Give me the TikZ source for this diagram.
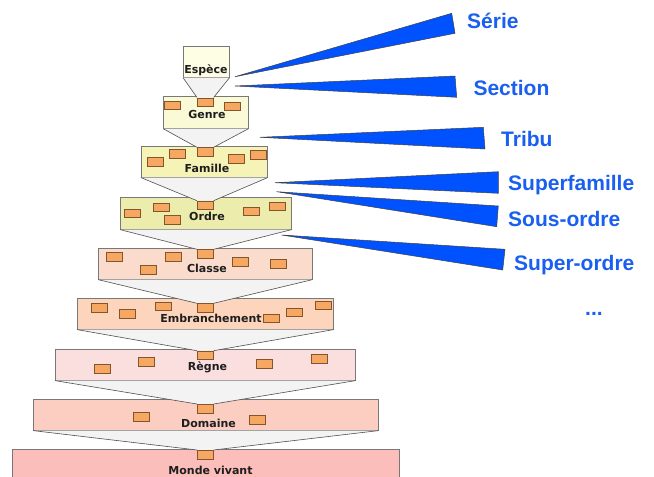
\documentclass[tikz,border=0pt]{standalone}
\usepackage{fontspec}
\newfontfamily\boxfont{DejaVu Sans}
\newfontfamily\labfont{Liberation Sans}
\definecolor{cEspece}{RGB}{254,254,228}
\definecolor{cGenre}{RGB}{251,250,215}
\definecolor{cFamille}{RGB}{246,243,182}
\definecolor{cOrdre}{RGB}{236,236,172}
\definecolor{cClasse}{RGB}{251,220,204}
\definecolor{cEmbr}{RGB}{252,213,188}
\definecolor{cRegne}{RGB}{251,222,222}
\definecolor{cDomaine}{RGB}{252,206,194}
\definecolor{cMonde}{RGB}{251,190,186}
\definecolor{boxline}{RGB}{120,120,120}
\definecolor{funnelgray}{RGB}{243,243,243}
\definecolor{funnelline}{RGB}{80,80,80}
\definecolor{orangefill}{RGB}{246,168,98}
\definecolor{orangeline}{RGB}{130,85,45}
\definecolor{tribfill}{RGB}{0,82,255}
\definecolor{labblue}{RGB}{25,95,240}
\definecolor{txtdark}{RGB}{30,30,30}
\tikzset{
  taxbox/.style={draw=boxline, line width=0.6pt, inner sep=0pt, anchor=north west},
  orect/.style={draw=orangeline, fill=orangefill, line width=0.6pt, inner sep=0pt,
    minimum width=16pt, minimum height=8.5pt, anchor=north west},
  funnelfill/.style={fill=funnelgray},
  funneledge/.style={draw=funnelline, line width=0.6pt},
  bluetri/.style={fill=tribfill, draw=black!75, line width=0.5pt, line join=round},
  boxlabel/.style={font=\boxfont\bfseries\fontsize{11}{13}\selectfont, text=txtdark, anchor=base, inner sep=0pt},
  bluelab/.style={font=\labfont\bfseries\fontsize{21}{24}\selectfont, text=labblue, anchor=base west, inner sep=0pt}
}
\begin{document}
\begin{tikzpicture}[x=1pt,y=-1pt]
\useasboundingbox[fill=white] (0,0) rectangle (654,477);

% boxes (positions only, fills drawn below after funnels)
\path
  coordinate (pe) at (183,46)
  coordinate (pg) at (163,96)
  coordinate (pf) at (141,146)
  coordinate (po) at (120,197)
  coordinate (pc) at (98,248)
  coordinate (pb) at (77,298)
  coordinate (pr) at (55,349)
  coordinate (pd) at (33,399)
  coordinate (pm) at (12,449);

% tabs
\path
  coordinate (tgp) at (197,97.5)
  coordinate (tfp) at (197,147.3)
  coordinate (top) at (197,200.7)
  coordinate (tcp) at (197,249.3)
  coordinate (tbp) at (197,303.3)
  coordinate (trp) at (197,350.7)
  coordinate (tdp) at (197,404)
  coordinate (tmp) at (197,450);

% draw boxes
\node[taxbox, fill=cEspece, minimum width=46pt, minimum height=31pt] (espece) at (pe) {};
\node[taxbox, fill=cGenre, minimum width=85pt, minimum height=32pt] (genre) at (pg) {};
\node[taxbox, fill=cFamille, minimum width=126pt, minimum height=31pt] (famille) at (pf) {};
\node[taxbox, fill=cOrdre, minimum width=171pt, minimum height=32pt] (ordre) at (po) {};
\node[taxbox, fill=cClasse, minimum width=214pt, minimum height=31pt] (classe) at (pc) {};
\node[taxbox, fill=cEmbr, minimum width=256pt, minimum height=31pt] (embr) at (pb) {};
\node[taxbox, fill=cRegne, minimum width=300pt, minimum height=31pt] (regne) at (pr) {};
\node[taxbox, fill=cDomaine, minimum width=345pt, minimum height=31pt] (domaine) at (pd) {};
\node[taxbox, fill=cMonde, minimum width=387pt, minimum height=36pt] (monde) at (pm) {};

% tab nodes
\node[orect] (tg) at (tgp) {};
\node[orect] (tf) at (tfp) {};
\node[orect] (to) at (top) {};
\node[orect] (tc) at (tcp) {};
\node[orect] (tb) at (tbp) {};
\node[orect] (tr) at (trp) {};
\node[orect] (td) at (tdp) {};
\node[orect] (tm) at (tmp) {};

% funnels
\foreach \up/\tab in {espece/tg, genre/tf, famille/to, ordre/tc, classe/tb, embr/tr, regne/td, domaine/tm}{
  \path[funnelfill] (\up.south west) -- (\tab.north west) -- (\tab.north east) -- (\up.south east) -- cycle;
  \draw[funneledge] (\up.south west) -- (\tab.north west);
  \draw[funneledge] (\up.south east) -- (\tab.north east);
  \node[orect] (\tab-top) at (\tab.north west) {};
}

% orange rectangles
\foreach \x/\y [count=\i] in {164/100.5, 224/101.5}
  \node[orect] (g\i) at (\x,\y) {};
\foreach \x/\y [count=\i] in {147/157, 169/149, 228/154, 250/150}
  \node[orect] (f\i) at (\x,\y) {};
\foreach \x/\y [count=\i] in {124/208.5, 153/202.5, 164/215, 243/206.5, 268.5/201.5}
  \node[orect] (o\i) at (\x,\y) {};
\foreach \x/\y [count=\i] in {106/252, 140/265, 164.5/252.3, 231.5/257.3, 270/259}
  \node[orect] (c\i) at (\x,\y) {};
\foreach \x/\y [count=\i] in {90.5/303, 119/309.3, 154.5/301.5, 263.3/313.5, 285.7/307.7, 315/300.7}
  \node[orect] (b\i) at (\x,\y) {};
\foreach \x/\y [count=\i] in {93.5/364.3, 137.5/357, 256/359, 310.5/354}
  \node[orect] (r\i) at (\x,\y) {};
\foreach \x/\y [count=\i] in {133/412.3, 249/415}
  \node[orect] (d\i) at (\x,\y) {};

% box labels
\node[boxlabel] (lespece) at (206,73) {Espèce};
\node[boxlabel] (lgenre) at (207,118) {Genre};
\node[boxlabel] (lfamille) at (207,172) {Famille};
\node[boxlabel] (lordre) at (207,220) {Ordre};
\node[boxlabel] (lclasse) at (207,272) {Classe};
\node[boxlabel] (lembr) at (211,322) {Embranchement};
\node[boxlabel] (lregne) at (207.5,370) {Règne};
\node[boxlabel] (ldomaine) at (208.5,427) {Domaine};
\node[boxlabel] (lmonde) at (210.5,474) {Monde vivant};

% blue wedges
\draw[bluetri] (235,76.7) -- (451.7,13.3) -- (455,33.3) -- cycle;
\draw[bluetri] (235,86) -- (455,76) -- (456.7,97.3) -- cycle;
\draw[bluetri] (260,137.3) -- (483.3,127.3) -- (485,149) -- cycle;
\draw[bluetri] (275,182.7) -- (498.3,171.7) -- (498.3,193.3) -- cycle;
\draw[bluetri] (276.7,191.7) -- (498.3,206) -- (496.7,226.7) -- cycle;
\draw[bluetri] (281.7,235) -- (505,249.3) -- (502.7,270) -- cycle;

% blue labels
\node[bluelab] (serie) at (467,28.3) {Série};
\node[bluelab] (section) at (473.3,95) {Section};
\node[bluelab] (tribu) at (501,146) {Tribu};
\node[bluelab] (superfam) at (508,190.7) {Superfamille};
\node[bluelab] (sousordre) at (508,226) {Sous-ordre};
\node[bluelab] (superordre) at (514,270) {Super-ordre};
\node[bluelab] (etc) at (585,315.5) {...};
\end{tikzpicture}
\end{document}
